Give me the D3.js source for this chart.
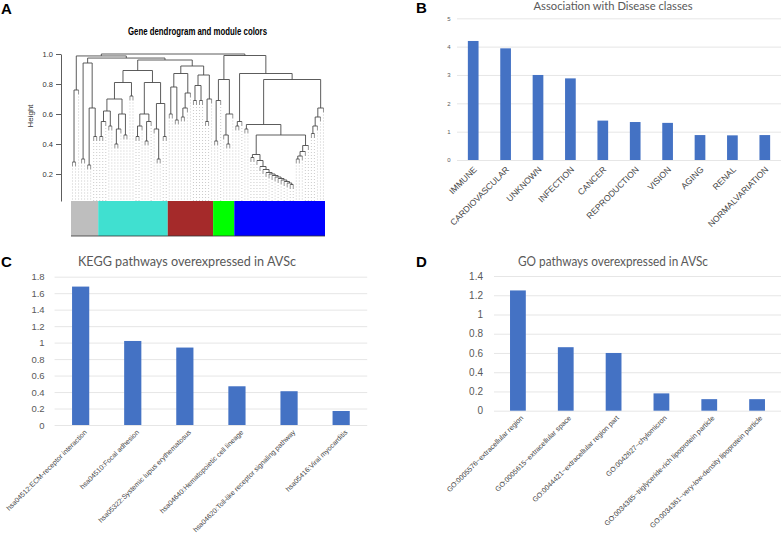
<!DOCTYPE html>
<html>
<head>
<meta charset="utf-8">
<script src="https://cdn.jsdelivr.net/npm/d3@7"></script>
<style>
body { margin: 0; background: #fff; }
svg { display: block; }
</style>
</head>
<body>
<svg width="781" height="537"></svg>
<script>
// ---------- data ----------
var diseaseClasses = ['IMMUNE', 'CARDIOVASCULAR', 'UNKNOWN', 'INFECTION', 'CANCER',
  'REPRODUCTION', 'VISION', 'AGING', 'RENAL', 'NORMALVARIATION'];
var diseaseValues = [4.2, 3.94, 3.0, 2.88, 1.39, 1.34, 1.31, 0.88, 0.87, 0.88];
var diseaseTicks = [0, 1, 2, 3, 4, 5];

var keggPathways = ['hsa04512:ECM-receptor interaction', 'hsa04510:Focal adhesion',
  'hsa05322:Systemic lupus erythematosus', 'hsa04640:Hematopoietic cell lineage',
  'hsa04620:Toll-like receptor signaling pathway', 'hsa05416:Viral myocarditis'];
var keggValues = [1.68, 1.02, 0.94, 0.47, 0.41, 0.17];
var keggTicks = [0, 0.2, 0.4, 0.6, 0.8, 1, 1.2, 1.4, 1.6, 1.8];

var goTerms = ['GO:0005576~extracellular region', 'GO:0005615~extracellular space',
  'GO:0044421~extracellular region part', 'GO:0042627~chylomicron',
  'GO:0034385~triglyceride-rich lipoprotein particle',
  'GO:0034361~very-low-density lipoprotein particle'];
var goValues = [1.25, 0.66, 0.60, 0.18, 0.12, 0.12];
var goTicks = [0, 0.2, 0.4, 0.6, 0.8, 1, 1.2, 1.4];

var heightTicks = [0.2, 0.4, 0.6, 0.8, 1.0];
var moduleColors = ['#bebebe', '#40e0d0', '#a52a2a', '#00ff00', '#0000ff'];
var moduleSizes = [9, 23, 15, 7, 30];

// dendrogram: [merge height, left, right], 0 = a gene (leaf)
var comb = [0.25, 0, [0.23, 0, [0.21, 0, [0.2, 0, [0.19, 0, [0.18, 0, [0.17, 0, [0.16, 0,
  [0.15, 0, [0.14, 0, [0.13, 0, 0]]]]]]]]]]];
var greyA = [0.76, [0.28, 0, 0], 0];
var greyB = [0.94, [0.30, 0, 0], [0.64, [0.26, 0, 0], [0.45, 0, 0]]];
var turq = [0.89,
  [0.81, [0.70, [0.62, [0.55, [0.45, 0, 0], 0], [0.52, 0, 0]], [0.60, [0.50, [0.40, 0, 0], 0], [0.46, 0, 0]]], [0.72, 0, 0]],
  [0.81, [0.60, [0.52, [0.45, 0, 0], 0], [0.55, [0.42, 0, 0], 0]], [0.67, [0.50, 0, [0.30, 0, 0]], [0.45, 0, 0]]]];
var brown = [0.92,
  [0.87, [0.78, [0.60, 0, 0], [0.56, 0, 0]], [0.74, [0.64, [0.58, 0, 0], 0], 0]],
  [0.86, [0.79, [0.69, 0, 0], [0.69, 0, 0]], [0.70, [0.55, 0, 0], 0]]];
var green = [0.83, [0.69, [0.42, 0, 0], 0], [0.60, [0.46, 0, [0.40, 0, 0]], 0]];
var blue = [0.87, [0.55, [0.52, 0, 0], 0],
  [0.83,
    [0.53, [0.50, 0, 0], [0.46, [0.33, [0.31, 0, 0], [0.29, 0, comb]], [0.39, [0.35, [0.32, [0.30, 0, 0], 0], 0], 0]]],
    [0.64, [0.58, [0.52, [0.47, 0, 0], 0], 0], 0]]];
var geneTree = [1.0, [0.987, greyA, [0.973, greyB, [0.96, turq, brown]]], [0.99, green, blue]];

var svg = d3.select('svg');
svg.append('rect').attr('width', 781).attr('height', 537).attr('fill', '#fff');

// panel letters
function letter(t, x, y) {
  svg.append('text').attr('x', x).attr('y', y).text(t)
    .attr('font-family', 'Liberation Sans, Arial, sans-serif')
    .attr('font-weight', 'bold').attr('font-size', 15).attr('fill', '#000');
}
letter('A', 1, 13.5);
letter('B', 416, 13);
letter('C', 1, 267);
letter('D', 416, 267);

// ---------- A: dendrogram ----------
var gA = svg.append('g').attr('font-family', 'Liberation Sans, Arial, sans-serif');
var hang = 0.03;
var hy = d3.scaleLinear().domain([0.02, 1]).range([201, 54]);

gA.append('text').attr('x', 197.5).attr('y', 35).attr('text-anchor', 'middle')
  .attr('font-family', 'Liberation Sans Narrow, Liberation Sans, sans-serif')
  .attr('font-weight', 'bold').attr('font-size', 10)
  .attr('textLength', 139).attr('lengthAdjust', 'spacingAndGlyphs')
  .text('Gene dendrogram and module colors');

var yAxA = gA.append('g').attr('transform', 'translate(61,0)')
  .call(d3.axisLeft(hy).tickValues(heightTicks).tickSize(5).tickSizeOuter(0).tickPadding(3)
    .tickFormat(d3.format('.1f')));
yAxA.selectAll('path,line').attr('stroke', '#333').attr('stroke-width', 0.8);
yAxA.selectAll('text').attr('font-size', 7.5).attr('fill', '#333').attr('font-family', null);

gA.append('text').attr('transform', 'translate(33,116) rotate(-90)')
  .attr('text-anchor', 'middle').attr('font-size', 8).attr('fill', '#333').text('Height');

var root = d3.hierarchy(geneTree, function(d) { return Array.isArray(d) ? d.slice(1) : null; });
var leaves = root.leaves();
var leafBand = d3.scaleBand().domain(d3.range(leaves.length)).range([71, 325]);
leaves.forEach(function(l, i) { l.gx = leafBand(i) + leafBand.bandwidth() / 2; });
root.eachAfter(function(n) {
  if (n.children) {
    n.gx = d3.mean(n.children, function(c) { return c.gx; });
    n.h = n.data[0];
  }
});
leaves.forEach(function(l) { l.h = l.parent.data[0] - hang; });

// guide lines
gA.append('g').selectAll('line').data(leaves).join('line')
  .attr('x1', function(d) { return d.gx; }).attr('x2', function(d) { return d.gx; })
  .attr('y1', function(d) { return hy(d.h) + 2; }).attr('y2', hy(0.02))
  .attr('stroke', '#a8a8a8').attr('stroke-width', 0.6).attr('stroke-dasharray', '1,2');

var dend = gA.append('g').attr('fill', 'none').attr('stroke', '#4a4a4a').attr('stroke-width', 0.9);
dend.selectAll('.v').data(root.descendants().slice(1)).join('line').attr('class', 'v')
  .attr('x1', function(d) { return d.gx; }).attr('x2', function(d) { return d.gx; })
  .attr('y1', function(d) { return hy(d.parent.h); }).attr('y2', function(d) { return hy(d.h); })
  .attr('stroke', function(d) { return d.children ? '#4a4a4a' : '#8a8a8a'; });
dend.selectAll('.h').data(root.descendants().filter(function(d) { return d.children; })).join('line')
  .attr('class', 'h')
  .attr('x1', function(d) { return d.children[0].gx; }).attr('x2', function(d) { return d.children[1].gx; })
  .attr('y1', function(d) { return hy(d.h); }).attr('y2', function(d) { return hy(d.h); });

// module colour bar
var starts = [0].concat(Array.from(d3.cumsum(moduleSizes)).slice(0, -1));
gA.append('g').selectAll('rect').data(moduleSizes).join('rect')
  .attr('x', function(d, i) { return leafBand(starts[i]); })
  .attr('width', function(d) { return leafBand.step() * d; })
  .attr('y', 201).attr('height', 35)
  .attr('fill', function(d, i) { return moduleColors[i]; });
gA.append('line').attr('x1', 71).attr('x2', 325).attr('y1', 236).attr('y2', 236)
  .attr('stroke', '#333').attr('stroke-width', 0.8);

// ---------- bar charts ----------
function barChart(o) {
  var g = svg.append('g').attr('font-family', 'Lato, Open Sans, sans-serif');
  var x = d3.scaleBand().domain(o.cats).range([o.left, o.right])
    .paddingInner(0.67).paddingOuter(0.335);
  var y = d3.scaleLinear().domain([0, o.max]).range([o.base, o.top]);

  var ax = g.append('g').attr('transform', 'translate(' + o.left + ',0)')
    .call(d3.axisLeft(y).tickValues(o.ticks).tickSize(-(o.right - o.left)).tickPadding(o.tickPad)
      .tickFormat(function(d) { return String(+d.toFixed(1)); }));
  ax.select('.domain').remove();
  ax.selectAll('line').attr('stroke', '#e0e0e0').attr('stroke-width', 0.8);
  ax.selectAll('text').attr('fill', '#595959').attr('font-size', o.tickFont).attr('font-family', null);

  g.append('g').selectAll('rect').data(o.vals).join('rect')
    .attr('x', function(d, i) { return x(o.cats[i]); })
    .attr('width', x.bandwidth())
    .attr('y', function(d) { return y(d); })
    .attr('height', function(d) { return o.base - y(d); })
    .attr('fill', '#4472c4');

  var xa = g.append('g').attr('transform', 'translate(0,' + o.base + ')')
    .call(d3.axisBottom(x).tickSize(0));
  xa.select('.domain').remove();
  xa.selectAll('text').attr('fill', '#454545').attr('font-size', o.labFont).attr('font-family', null)
    .attr('text-anchor', 'end').attr('x', 0).attr('y', 0).attr('dy', '0.35em')
    .attr('transform', 'translate(' + o.labDx + ',' + o.labDy + ') rotate(-45)');

  g.append('text').attr('x', o.titleX).attr('y', o.titleY).attr('text-anchor', 'middle')
    .attr('fill', '#595959').attr('font-size', o.titleFont)
    .attr('textLength', o.titleW).attr('lengthAdjust', 'spacingAndGlyphs')
    .text(o.title);
}

barChart({
  cats: diseaseClasses, vals: diseaseValues, ticks: diseaseTicks, max: 5,
  left: 457, right: 781, base: 160, top: 18.3,
  tickPad: 6.5, tickFont: 6, labFont: 8.6, labDx: 2, labDy: 8,
  title: 'Association with Disease classes', titleX: 613, titleY: 9.5, titleFont: 11, titleW: 159
});

barChart({
  cats: keggPathways, vals: keggValues, ticks: keggTicks, max: 1.8,
  left: 54.6, right: 367.2, base: 425, top: 276.7,
  tickPad: 10, tickFont: 9.5, labFont: 7, labDx: 5, labDy: 6,
  title: 'KEGG pathways overexpressed in AVSc', titleX: 187, titleY: 266, titleFont: 13, titleW: 218
});

barChart({
  cats: goTerms, vals: goValues, ticks: goTicks, max: 1.4,
  left: 494, right: 781, base: 410.7, top: 276,
  tickPad: 11, tickFont: 10, labFont: 7.1, labDx: 4, labDy: 6,
  title: 'GO pathways overexpressed in AVSc', titleX: 613, titleY: 266, titleFont: 13, titleW: 190
});
</script>
</body>
</html>
